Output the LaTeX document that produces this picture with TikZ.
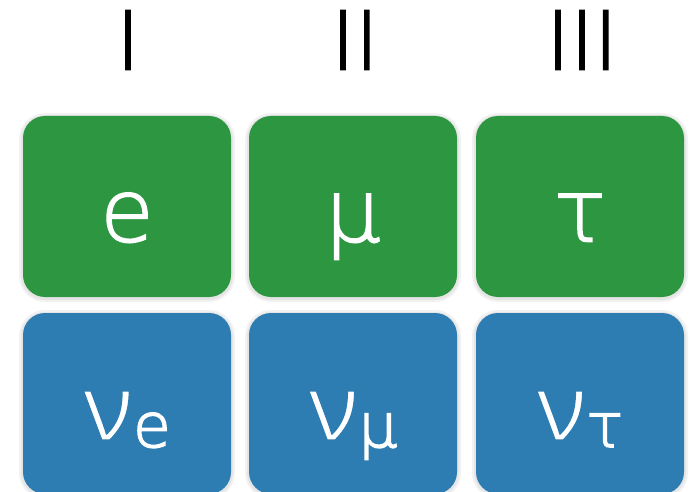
\documentclass[tikz,border=0pt]{standalone}
\usepackage{fontspec}
\setmainfont{DejaVu Sans ExtraLight}
\newfontfamily\nufont{Open Sans}
\definecolor{lepgreen}{RGB}{44,150,64}
\definecolor{nublue}{RGB}{45,124,178}
\newcommand{\strk}[1]{\special{pdf:literal direct 2 Tr 1.6 w}#1\special{pdf:literal direct 0 Tr}}
\newcommand{\nuglyph}{{\nufont\fontsize{92}{92}\selectfont\special{pdf:literal direct 2 Tr 1.5 w 0.176 0.486 0.698 RG}ν\special{pdf:literal direct 2 Tr 1.6 w 1 1 1 RG}}}
\tikzset{
  box/.style={rectangle, rounded corners=22pt, minimum width=208pt, minimum height=181pt, inner sep=0pt, outer sep=0pt, draw=none},
  greenbox/.style={box, fill=lepgreen},
  bluebox/.style={box, fill=nublue},
  shade1/.style={box, fill=black, fill opacity=0.05, minimum width=212pt, minimum height=185pt, rounded corners=24pt},
  shade2/.style={box, fill=black, fill opacity=0.05, minimum width=216pt, minimum height=189pt, rounded corners=26pt},
  big/.style={text=white, inner sep=0pt, anchor=base, font=\fontsize{87}{87}\selectfont},
  head/.style={text=black, inner sep=0pt, anchor=base, font=\fontsize{81}{81}\selectfont},
}
\newcommand{\nusub}[1]{\nuglyph\raisebox{-7pt}{\fontsize{61}{61}\selectfont #1}}
\begin{document}
\begin{tikzpicture}[x=1pt,y=-1pt]
\useasboundingbox (0,0) rectangle (691,492);
\clip (0,0) rectangle (691,492);
\fill[white] (0,0) rectangle (691,492);
% shadows
\foreach \x/\y in {127/207.5,353/207.5,580/207.5,127/404.5,353/404.5,580/404.5}{
  \node[shade2] at (\x,\y) {};
  \node[shade1] at (\x,\y) {};
}
% boxes
\node[greenbox] (g1) at (127,206.5) {};
\node[greenbox] (g2) at (353,206.5) {};
\node[greenbox] (g3) at (580,206.5) {};
\node[bluebox] (b1) at (127,403.5) {};
\node[bluebox] (b2) at (353,403.5) {};
\node[bluebox] (b3) at (580,403.5) {};
% headings
\node[head] (h1) at (128,69.5) {\strk{I}};
\node[head] (h2) at (355,69.5) {\strk{II}};
\node[head] (h3) at (582,69.5) {\strk{III}};
% labels
\node[big] (e) at (127,241.5) {\strk{e}};
\node[big] (mu) at (353,241.5) {\strk{μ}};
\node[big] (tau) at (580,241.5) {\strk{τ}};
\node[big] (nue) at (127,440) {\strk{\nusub{e}}};
\node[big] (numu) at (353,440) {\strk{\nusub{μ}}};
\node[big] (nutau) at (580,440) {\strk{\nusub{τ}}};
\end{tikzpicture}
\end{document}
